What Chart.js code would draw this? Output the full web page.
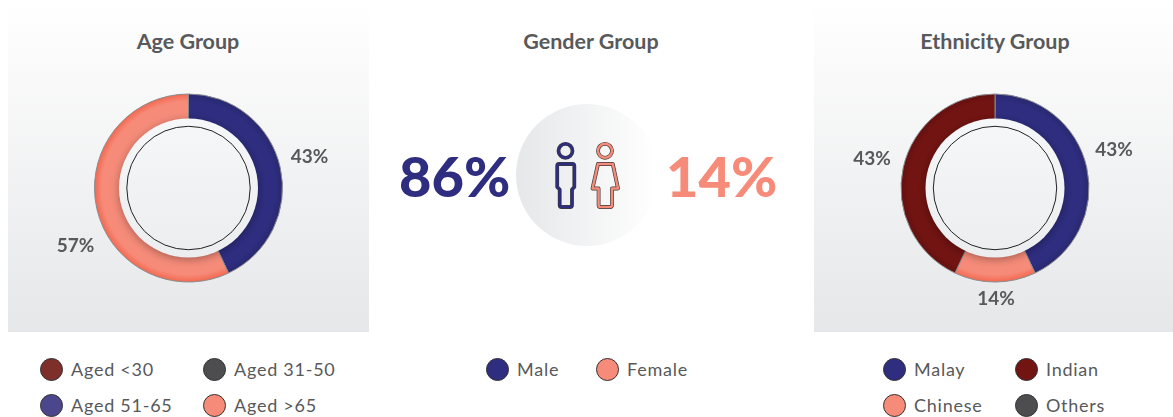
<!DOCTYPE html>
<html>
<head>
<meta charset="utf-8">
<script src="https://cdn.jsdelivr.net/npm/chart.js@4"></script>
<style>
  html, body { margin: 0; padding: 0; background: #fff; }
  body { width: 1173px; height: 417px; position: relative; overflow: hidden; font-family: Lato, sans-serif; color: #58595b; }
  .panel { position: absolute; top: 0; height: 332px; background: linear-gradient(#fff, #e6e7e9); }
  .title { position: absolute; top: 28px; width: 300px; text-align: center; font-size: 21.5px; font-weight: 700; line-height: 26px; }
  canvas { position: absolute; top: 40px; }
  .big { position: absolute; top: 141px; font-size: 56px; font-weight: 900; line-height: 70px; }
  .disc { position: absolute; left: 516px; top: 104px; width: 142px; height: 142px; border-radius: 50%; background: linear-gradient(90deg, #e6e7e9, #fff); }
  svg { position: absolute; left: 540px; top: 130px; }
  .legend { position: absolute; top: 351px; display: grid; row-gap: 0; font-size: 18px; letter-spacing: .75px; }
  .item { display: flex; align-items: center; height: 36px; }
  .dot { width: 21px; height: 21px; border-radius: 50%; border: 1px solid #333; margin-right: 8px; flex: none; }
</style>
</head>
<body>
<div class="panel" style="left:8px;width:361px"></div>
<div class="panel" style="left:814px;width:359px"></div>

<div class="title" style="left:38px">Age Group</div>
<div class="title" style="left:441px">Gender Group</div>
<div class="title" style="left:845px">Ethnicity Group</div>

<canvas id="ageChart" style="left:8px" width="361" height="296"></canvas>
<canvas id="ethnicityChart" style="left:817px" width="356" height="296"></canvas>

<div class="disc"></div>
<div class="big" id="malePct" style="left:399px;color:#2e2d7f"></div>
<div class="big" id="femalePct" style="left:666px;color:#f68b79"></div>
<svg width="100" height="90" viewBox="540 130 100 90" fill="none" stroke-linejoin="round">
  <g stroke="#3a3a3c" stroke-width="3.8">
    <circle cx="565.5" cy="150.8" r="7"/>
    <path d="M559 164 H572.5 Q574.3 164 574.3 166 V187 L572 189.5 V205 Q572 207 570 207 H561.5 Q559.7 207 559.7 205 V189.5 L557.2 187 V166 Q557.2 164 559 164 Z"/>
    <circle cx="605" cy="150.8" r="7"/>
    <path d="M598 164 H612.8 L618 188.5 H612 V205 Q612 207 610 207 H600.5 Q598.6 207 598.6 205 V188.5 L592.5 188.5 Z"/>
  </g>
  <g stroke="#2e2d7f" stroke-width="2.5">
    <circle cx="565.5" cy="150.8" r="7"/>
    <path d="M559 164 H572.5 Q574.3 164 574.3 166 V187 L572 189.5 V205 Q572 207 570 207 H561.5 Q559.7 207 559.7 205 V189.5 L557.2 187 V166 Q557.2 164 559 164 Z"/>
  </g>
  <g stroke="#f68b79" stroke-width="2.5">
    <circle cx="605" cy="150.8" r="7"/>
    <path d="M598 164 H612.8 L618 188.5 H612 V205 Q612 207 610 207 H600.5 Q598.6 207 598.6 205 V188.5 L592.5 188.5 Z"/>
  </g>
</svg>

<div class="legend" id="ageLegend" style="left:40px;grid-template-columns:163px 163px"></div>
<div class="legend" id="genderLegend" style="left:486px;grid-template-columns:110px 110px"></div>
<div class="legend" id="ethnicityLegend" style="left:883px;grid-template-columns:132px 132px"></div>

<script>
const ageLabels = ['Aged <30', 'Aged 31-50', 'Aged 51-65', 'Aged >65'];
const ageValues = [0, 0, 43, 57];
const ageColors = ['#7f2f2a', '#4d4d4f', '#2e2d7f', '#f68b79'];
const ageLegendColors = ['#7f2f2a', '#4d4d4f', '#4c478c', '#f68b79'];

const genderLabels = ['Male', 'Female'];
const genderValues = [86, 14];
const genderColors = ['#2e2d7f', '#f68b79'];

const ethnicityLabels = ['Malay', 'Chinese', 'Indian', 'Others'];
const ethnicityValues = [43, 14, 43, 0];
const ethnicityColors = ['#2e2d7f', '#f68b79', '#721412', '#4d4d4f'];
// legend reads across the rows, so it is in a different order from the slices
const ethnicityLegendOrder = [0, 2, 1, 3];

const ringOuter = 94;
const ringInner = 69.5;
const lineRadius = 61.7;

// disc over the hole of the ring, its shadow falls on the slices
const innerDisc = {
  id: 'innerDisc',
  afterDatasetsDraw(chart) {
    const arc = chart.getDatasetMeta(0).data[0];
    const c = chart.ctx;
    const fill = c.createLinearGradient(0, arc.y - ringInner, 0, arc.y + ringInner);
    fill.addColorStop(0, '#f6f7f8');
    fill.addColorStop(1, '#ecedef');
    c.save();
    c.shadowColor = 'rgba(0,0,0,.32)';
    c.shadowBlur = 9;
    c.shadowOffsetY = 2;
    c.fillStyle = fill;
    c.beginPath();
    c.arc(arc.x, arc.y, ringInner, 0, Math.PI * 2);
    c.fill();
    c.restore();
    c.strokeStyle = '#222';
    c.lineWidth = 1;
    c.beginPath();
    c.arc(arc.x, arc.y, lineRadius, 0, Math.PI * 2);
    c.stroke();
  }
};

// percent labels outside the slices
const pctLabels = {
  id: 'pctLabels',
  afterDraw(chart, args, opts) {
    const c = chart.ctx;
    const values = chart.data.datasets[0].data;
    c.save();
    c.font = '700 19px Lato';
    c.fillStyle = '#58595b';
    c.textAlign = 'center';
    c.textBaseline = 'middle';
    chart.getDatasetMeta(0).data.forEach((arc, i) => {
      if (!values[i]) return;
      const mid = (arc.startAngle + arc.endAngle) / 2;
      const off = opts.nudge[i];
      c.fillText(values[i] + '%',
        arc.x + Math.cos(mid) * opts.radius + off[0],
        arc.y + Math.sin(mid) * opts.radius + off[1]);
    });
    c.restore();
  }
};

// slice colour, a little darker towards the outer edge
function ringFill(colors) {
  return ctx => {
    const chart = ctx.chart;
    const area = chart.chartArea;
    const color = colors[ctx.dataIndex];
    if (!area) return color;
    const x = (area.left + area.right) / 2;
    const y = (area.top + area.bottom) / 2;
    const g = chart.ctx.createRadialGradient(x, y, ringInner, x, y, ringOuter);
    g.addColorStop(0, color);
    g.addColorStop(.7, color);
    g.addColorStop(1, Chart.helpers.color(color).darken(.12).rgbString());
    return g;
  };
}

function makeDonut(id, labels, values, colors, nudge) {
  new Chart(document.getElementById(id), {
    type: 'doughnut',
    data: {
      labels: labels,
      datasets: [{
        data: values,
        backgroundColor: ringFill(colors),
        borderColor: '#8a8b8e',
        borderWidth: 1
      }]
    },
    options: {
      responsive: false,
      animation: false,
      radius: ringOuter,
      cutout: ringInner,
      layout: { padding: 0 },
      plugins: {
        legend: { display: false },
        tooltip: { enabled: false },
        pctLabels: { radius: 124, nudge: nudge }
      }
    },
    plugins: [innerDisc, pctLabels]
  });
}

makeDonut('ageChart', ageLabels, ageValues, ageColors,
  [[0, 0], [0, 0], [0, -4], [8, 31]]);
makeDonut('ethnicityChart', ethnicityLabels, ethnicityValues, ethnicityColors,
  [[-2, -11], [1, -13], [-2, -2], [0, 0]]);

function makeLegend(id, labels, colors) {
  const box = document.getElementById(id);
  labels.forEach((label, i) => {
    const item = document.createElement('div');
    item.className = 'item';
    const dot = document.createElement('span');
    dot.className = 'dot';
    dot.style.background = colors[i];
    item.appendChild(dot);
    item.appendChild(document.createTextNode(label));
    box.appendChild(item);
  });
}

makeLegend('ageLegend', ageLabels, ageLegendColors);
makeLegend('genderLegend', genderLabels, genderColors);
makeLegend('ethnicityLegend',
  ethnicityLegendOrder.map(i => ethnicityLabels[i]),
  ethnicityLegendOrder.map(i => ethnicityColors[i]));

document.getElementById('malePct').textContent = genderValues[0] + '%';
document.getElementById('femalePct').textContent = genderValues[1] + '%';
</script>
</body>
</html>
